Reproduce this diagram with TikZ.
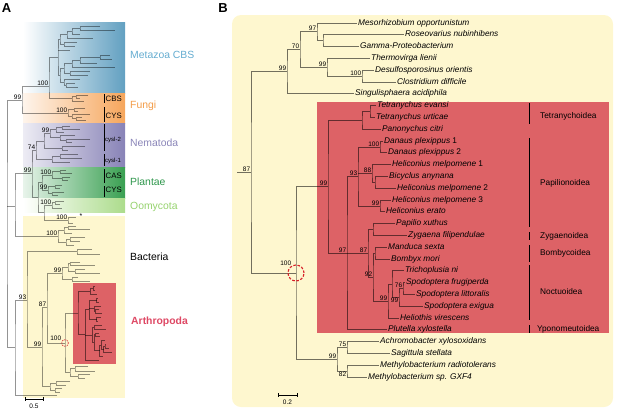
\documentclass[tikz,border=0pt]{standalone}
\usepackage{fontspec}
\setmainfont{Liberation Sans}
\usetikzlibrary{calc,positioning}

\definecolor{paleyel}{RGB}{254,247,207}
\definecolor{arthred}{RGB}{221,98,102}
\definecolor{metblue}{RGB}{98,160,193}
\definecolor{fungor}{RGB}{246,166,92}
\definecolor{nemvio}{RGB}{136,131,183}
\definecolor{plgreen}{RGB}{58,160,82}
\definecolor{oomgreen}{RGB}{172,220,140}
\definecolor{metblueT}{RGB}{100,172,208}
\definecolor{fungorT}{RGB}{243,155,70}
\definecolor{nemvioT}{RGB}{138,133,184}
\definecolor{plgreenT}{RGB}{45,150,75}
\definecolor{oomgreenT}{RGB}{150,210,110}
\definecolor{arthredT}{RGB}{222,72,100}
\definecolor{circred}{RGB}{215,30,40}

% cherry: node, first child, second child
\newcommand\cherry[3]{\draw[abranch] (#2) -| (#1) |- (#3);}

% arthropod subtree, used in both panels
\newcommand\arthtree{%
  \coordinate (teva) at (375.5,105.6);
  \coordinate (turt) at (374.5,117.4);
  \coordinate (pcit) at (380.5,129.2);
  \coordinate (dple1) at (382.5,141);
  \coordinate (dple2) at (386.5,152.8);
  \coordinate (hmel1) at (390.5,164.6);
  \coordinate (bany) at (387.5,176.4);
  \coordinate (hmel2) at (395.5,188.2);
  \coordinate (hmel3) at (390.5,200);
  \coordinate (hera) at (384.5,211.8);
  \coordinate (pxut) at (394.5,223.6);
  \coordinate (zfil) at (406.5,235.4);
  \coordinate (msex) at (386.5,247.2);
  \coordinate (bmor) at (389.5,259);
  \coordinate (tni) at (403.5,270.8);
  \coordinate (sfru) at (404.5,282.6);
  \coordinate (slit) at (414.5,294.4);
  \coordinate (sexi) at (422.5,306.2);
  \coordinate (hvir) at (398.5,318);
  \coordinate (pxyl) at (386.5,329.8);
  % inner nodes
  \coordinate (tt) at (370,111.5);
  \coordinate (tet) at (362,120.35);
  \coordinate (d100) at (380,146.9);
  \coordinate (bh) at (375,182.3);
  \coordinate (h88) at (372,173.45);
  \coordinate (h99) at (380,205.9);
  \coordinate (p93) at (358,176.4);
  \coordinate (pz) at (373,229.5);
  \coordinate (mb) at (375,253.1);
  \coordinate (s76) at (403,288.5);
  \coordinate (s99) at (399,297.35);
  \coordinate (ts) at (392,284.1);
  \coordinate (n99) at (388,301.05);
  \coordinate (b92) at (373,277.1);
  \coordinate (l87) at (368,253.3);
  \coordinate (l97) at (347,253.1);
  \coordinate (a99) at (328,186.7);
  \draw[branch] (teva) -| (tt) |- (turt);
  \draw[branch] (tt) -| (tet) |- (pcit);
  \draw[branch] (dple1) -| (d100) |- (dple2);
  \draw[branch] (bany) -| (bh) |- (hmel2);
  \draw[branch] (hmel1) -| (h88) |- (bh);
  \draw[branch] (hmel3) -| (h99) |- (hera);
  \draw[branch] (d100) -| (p93) |- (h99);
  \draw[branch] (p93 |- h88) -- (h88);
  \draw[branch] (pxut) -| (pz) |- (zfil);
  \draw[branch] (msex) -| (mb) |- (bmor);
  \draw[branch] (sfru) -| (s76) |- (slit);
  \draw[branch] (s76) -| (s99) |- (sexi);
  \draw[branch] (tni) -| (ts) |- (s99);
  \draw[branch] (ts) -| (n99) |- (hvir);
  \draw[branch] (mb) -| (b92) |- (n99);
  \draw[branch] (pz) -| (l87) |- (b92);
  \draw[branch] (p93) -| (l97) |- (pxyl);
  \draw[branch] (l97 |- l87) -- (l87);
  \draw[branch] (tet) -| (a99) |- (l97);
}

\begin{document}
\begin{tikzpicture}[x=1pt,y=-1pt,
  branch/.style={draw=black,draw opacity=.55,line width=.75pt},
  abranch/.style={draw=black,draw opacity=.42,line width=.55pt},
  taxon/.style={anchor=west,inner sep=1.5pt,text height=6pt,text depth=1.7pt,
    font=\fontsize{8.3}{9}\selectfont\itshape},
  bs/.style={anchor=south east,inner sep=.6pt,font=\fontsize{6.5}{7}\selectfont},
  bsb/.style={anchor=north east,inner sep=.6pt,font=\fontsize{6.5}{7}\selectfont},
  sfam/.style={anchor=west,inner sep=0pt,font=\fontsize{8.3}{9}\selectfont},
  grp/.style={anchor=west,inner sep=0pt,font=\fontsize{10.4}{12}\selectfont},
  gene/.style={anchor=west,inner sep=1pt,font=\fontsize{7.8}{9}\selectfont},
  bar/.style={line width=.8pt},
  panel/.style={font=\fontsize{13}{14}\selectfont\bfseries}]
\useasboundingbox (0,0) rectangle (617,410);

% ---------------- panel A ----------------
\node[panel] (pa) at (6.5,8) {A};
\shade[left color=white,right color=metblue] (23,22) rectangle (125,93);
\shade[left color=fungor!12,right color=fungor] (23,93) rectangle (125,123);
\shade[left color=nemvio!15,right color=nemvio] (23,123) rectangle (125,167);
\shade[left color=plgreen!12,right color=plgreen] (23,167) rectangle (125,198);
\shade[left color=white,right color=oomgreen] (23,198) rectangle (125,212);
\fill[paleyel] (23,216) rectangle (125,398);
\fill[arthred] (73,283) rectangle (116,364);

\begin{scope}[shift={(-40.08,252)},xscale=.36,yscale=.327,name prefix=a-,
  branch/.style={draw=black,draw opacity=.5,line width=.55pt}]
  \arthtree
\end{scope}

\draw[abranch] (22,100) -| (7,223) |- (15,347.5);
\draw[abranch] (7,205.9) -- (15,205.9);
\cherry{22,100}{49,86}{68,112.9}
\cherry{49,86}{58,57}{72,98.75}
\cherry{58,57}{60,39.25}{60,75.1}
\draw[abranch] (58,50) -- (70,50);
\cherry{60,39.25}{67,34.5}{64,44}
\cherry{67,34.5}{72,31}{93,38}
\cherry{72,31}{80,28}{80,34}
\cherry{80,28}{100,26}{115,30}
\cherry{64,44}{77,42}{75,46}
\cherry{60,75.1}{64,68.25}{64,82}
\cherry{64,68.25}{72,63.5}{70,73}
\cherry{72,63.5}{80,60}{115,67}
\cherry{80,60}{100,57}{97,63}
\cherry{100,57}{110,55}{112,59}
\cherry{70,73}{90,71}{88,75}
\cherry{64,82}{80,79}{66,85}
\cherry{66,85}{75,83}{78,87}
\cherry{72,98.75}{76,96.5}{84,101}
\cherry{76,96.5}{88,95}{80,98}
\cherry{68,112.9}{74,109.5}{72,116.25}
\cherry{74,109.5}{85,108}{78,111}
\cherry{72,116.25}{90,114}{76,118.5}
\cherry{76,118.5}{82,117}{86,120}
\cherry{15,205.9}{32,173.75}{58,236}
\cherry{32,173.75}{36,150}{38,197.5}
\cherry{36,150}{44,140.9}{52,159}
\cherry{44,140.9}{50,133.75}{62,148}
\cherry{50,133.75}{56,129.75}{60,137.75}
\cherry{56,129.75}{62,127.5}{64,132}
\cherry{62,127.5}{70,126}{80,129}
\cherry{60,137.75}{75,135}{66,140.5}
\cherry{66,140.5}{90,139}{72,142}
\cherry{62,148}{85,146}{68,150}
\cherry{52,159}{60,156}{70,162}
\cherry{60,156}{78,154}{82,158}
\cherry{38,197.5}{42,182.5}{44,212.5}
\cherry{42,182.5}{52,175}{48,190}
\cherry{52,175}{60,171.5}{62,178.5}
\cherry{60,171.5}{66,170}{72,173}
\cherry{62,178.5}{70,177}{68,180}
\cherry{48,190}{55,186.5}{52,193.5}
\cherry{55,186.5}{62,185}{60,188}
\cherry{52,193.5}{64,192}{58,195}
\cherry{44,212.5}{52,205.25}{68,220}
\cherry{52,205.25}{55,202.5}{62,208}
\cherry{55,202.5}{64,201}{60,204}
\cherry{68,220}{76,217}{73,223}
\cherry{58,236}{64,230.25}{66,242}
\cherry{64,230.25}{68,227.5}{72,233}
\cherry{68,227.5}{76,226}{90,229}
\cherry{66,242}{70,239}{74,245}
\cherry{70,239}{85,237}{80,241}
\cherry{15,347.5}{27,300}{57,395}
\cherry{27,300}{77,251.5}{42,347}
\cherry{77,251.5}{92,249}{100,254}
\cherry{42,347}{47,307.5}{50,386}
\cherry{47,307.5}{62,273}{65,343}
\cherry{62,273}{68,267.25}{72,279}
\cherry{68,267.25}{70,263.5}{75,271}
\cherry{70,263.5}{80,262}{95,265}
\cherry{75,271}{85,269}{100,273}
\cherry{72,279}{78,277}{90,281}
\draw[abranch] (a-a99) -| (65,343) |- (70,372);
\cherry{70,372}{75,368.5}{78,376}
\cherry{75,368.5}{88,366}{95,371}
\cherry{78,376}{90,374}{85,378}
\cherry{50,386}{56,383}{55,390}
\cherry{56,383}{70,381}{66,385}
\cherry{55,390}{62,388}{60,392}
\draw[circred,line width=.6pt,dash pattern=on 1pt off .8pt] (65,343) circle[radius=3.4pt];

\foreach \p/\v in {{22,100}/99,{49,86}/100,{68,112.9}/100,{50,133.75}/99,{36,150}/74,
  {32,173.75}/99,{52,175}/100,{48,190}/99,{52,205.25}/100,{68,220}/100,{58,236}/100,
  {62,273}/99,{27,300}/93,{47,307.5}/87,{42,347}/99}
  \node[bs] at (\p) {\v};
\node[bs] (a100) at (62,341) {100};
\node[font=\fontsize{7}{7}\selectfont,inner sep=0pt] (star) at (81,216) {*};

\foreach \a/\b in {94/103,107/122,124/151,154/166,169/183,186/197}
  \draw[bar] (104,\a) -- (104,\b);
\node[gene] (gcbs) at (104.5,99) {CBS};
\node[gene] (gcys) at (104.5,116) {CYS};
\node[gene,font=\fontsize{6}{7}\selectfont] (gcy2) at (104,140) {cysl-2};
\node[gene,font=\fontsize{6}{7}\selectfont] (gcy1) at (104,161) {cysl-1};
\node[gene] (gcas) at (104.5,176) {CAS};
\node[gene] (gcys2) at (104.5,190) {CYS};

\node[grp,text=metblueT] (lmet) at (130,55) {Metazoa CBS};
\node[grp,text=fungorT] (lfun) at (130,106) {Fungi};
\node[grp,text=nemvioT] (lnem) at (130,143) {Nematoda};
\node[grp,text=plgreenT] (lpla) at (130,182) {Plantae};
\node[grp,text=oomgreenT] (loom) at (130,207) {Oomycota};
\node[grp] (lbac) at (130,257) {Bacteria};
\node[grp,text=arthredT,font=\fontsize{10.4}{12}\selectfont\bfseries] (lart) at (131,322) {Arthropoda};

\draw[line width=.6pt] (25,399) -- (43,399) (25,397) -- (25,401) (43,397) -- (43,401);
\node[font=\fontsize{6.5}{7}\selectfont,inner sep=0pt] (sca) at (34,406) {0.5};

% ---------------- panel B ----------------
\node[panel] (pb) at (223,8) {B};
\fill[paleyel,rounded corners=9pt] (232,15) rectangle (613,407);
\fill[arthred] (317,102) rectangle (609,333);

\coordinate (mopp) at (356.5,23);
\coordinate (rnub) at (403.5,34.8);
\coordinate (gpro) at (358.5,46.6);
\coordinate (tlie) at (369.5,58.4);
\coordinate (dori) at (373.5,70.2);
\coordinate (cdif) at (395.5,82);
\coordinate (saci) at (353.5,93.8);
\coordinate (axyl) at (378.5,341.6);
\coordinate (sste) at (389.5,353.4);
\coordinate (mrad) at (378.5,365.2);
\coordinate (mgxf) at (366.5,377);
\coordinate (rg) at (323,40.7);
\coordinate (u97) at (317,31.85);
\coordinate (u100) at (362,76.1);
\coordinate (u99b) at (327,67.25);
\coordinate (u70) at (300,49.55);
\coordinate (u99) at (287,71.7);
\coordinate (l75) at (347,347.5);
\coordinate (l82) at (347,371.1);
\coordinate (l99) at (337,359.3);
\coordinate (c100) at (296,273);
\coordinate (root) at (251,172.35);
\coordinate (rootstem) at (237,172.35);

\arthtree
\draw[branch] (rnub) -| (rg) |- (gpro);
\draw[branch] (mopp) -| (u97) |- (rg);
\draw[branch] (dori) -| (u100) |- (cdif);
\draw[branch] (tlie) -| (u99b) |- (u100);
\draw[branch] (u97) -| (u70) |- (u99b);
\draw[branch] (u70) -| (u99) |- (saci);
\draw[branch] (axyl) -| (l75) |- (sste);
\draw[branch] (mrad) -| (l82) |- (mgxf);
\draw[branch] (l75) -| (l99) |- (l82);
\draw[branch] (a99) -| (c100) |- (l99);
\draw[branch] (u99) -| (root) |- (c100);
\draw[branch] (rootstem) -- (root);
\draw[circred,line width=1.1pt,dash pattern=on 2.6pt off 1.6pt] (c100) circle[radius=8pt];

\node[taxon] (t-mopp) at (mopp) {Mesorhizobium opportunistum};
\node[taxon] (t-rnub) at (rnub) {Roseovarius nubinhibens};
\node[taxon] (t-gpro) at (gpro) {Gamma-Proteobacterium};
\node[taxon] (t-tlie) at (tlie) {Thermovirga lienii};
\node[taxon] (t-dori) at (dori) {Desulfosporosinus orientis};
\node[taxon] (t-cdif) at (cdif) {Clostridium difficile};
\node[taxon] (t-saci) at (saci) {Singulisphaera acidiphila};
\node[taxon] (t-teva) at (teva) {Tetranychus evansi};
\node[taxon] (t-turt) at (turt) {Tetranychus urticae};
\node[taxon] (t-pcit) at (pcit) {Panonychus citri};
\node[taxon] (t-dple1) at (dple1) {Danaus plexippus \upshape 1};
\node[taxon] (t-dple2) at (dple2) {Danaus plexippus \upshape 2};
\node[taxon] (t-hmel1) at (hmel1) {Heliconius melpomene \upshape 1};
\node[taxon] (t-bany) at (bany) {Bicyclus anynana};
\node[taxon] (t-hmel2) at (hmel2) {Heliconius melpomene \upshape 2};
\node[taxon] (t-hmel3) at (hmel3) {Heliconius melpomene \upshape 3};
\node[taxon] (t-hera) at (hera) {Heliconius erato};
\node[taxon] (t-pxut) at (pxut) {Papilio xuthus};
\node[taxon] (t-zfil) at (zfil) {Zygaena filipendulae};
\node[taxon] (t-msex) at (msex) {Manduca sexta};
\node[taxon] (t-bmor) at (bmor) {Bombyx mori};
\node[taxon] (t-tni) at (tni) {Trichoplusia ni};
\node[taxon] (t-sfru) at (sfru) {Spodoptera frugiperda};
\node[taxon] (t-slit) at (slit) {Spodoptera littoralis};
\node[taxon] (t-sexi) at (sexi) {Spodoptera exigua};
\node[taxon] (t-hvir) at (hvir) {Heliothis virescens};
\node[taxon] (t-pxyl) at (pxyl) {Plutella xylostella};
\node[taxon] (t-axyl) at (axyl) {Achromobacter xylosoxidans};
\node[taxon] (t-sste) at (sste) {Sagittula stellata};
\node[taxon] (t-mrad) at (mrad) {Methylobacterium radiotolerans};
\node[taxon] (t-mgxf) at (mgxf) {Methylobacterium sp. GXF4};

\foreach \n/\v in {root/87,u99/99,u70/70,u97/97,u99b/99,u100/100,l99/99,l75/75,
  a99/99,d100/100,h88/88,h99/99,p93/93,l97/97,l87/87,b92/92,s76/76,n99/99}
  \node[bs] at (\n) {\v};
\node[bsb] at (l82) {82};
\node[bsb] at (s99) {99};
\node[bs] (b100) at ($(c100)+(-4,-7)$) {100};

\foreach \a/\b/\y/\t in {103/124/116/Tetranychoidea,138/227/183/Papilionoidea,
  232/240/236/Zygaenoidea,245/262/253/Bombycoidea,265/320/292/Noctuoidea}
  {\draw[bar] (529,\a) -- (529,\b);
   \node[sfam] at (540,\y) {\t};}
\draw[bar] (529,325) -- (529,333);
\node[sfam] (sf-ypo) at (537,329) {Yponomeutoidea};

\draw[line width=.6pt] (278,395) -- (297,395) (278,393) -- (278,397) (297,393) -- (297,397);
\node[font=\fontsize{6.5}{7}\selectfont,inner sep=0pt] (scb) at (287.5,402) {0.2};
\end{tikzpicture}
\end{document}
